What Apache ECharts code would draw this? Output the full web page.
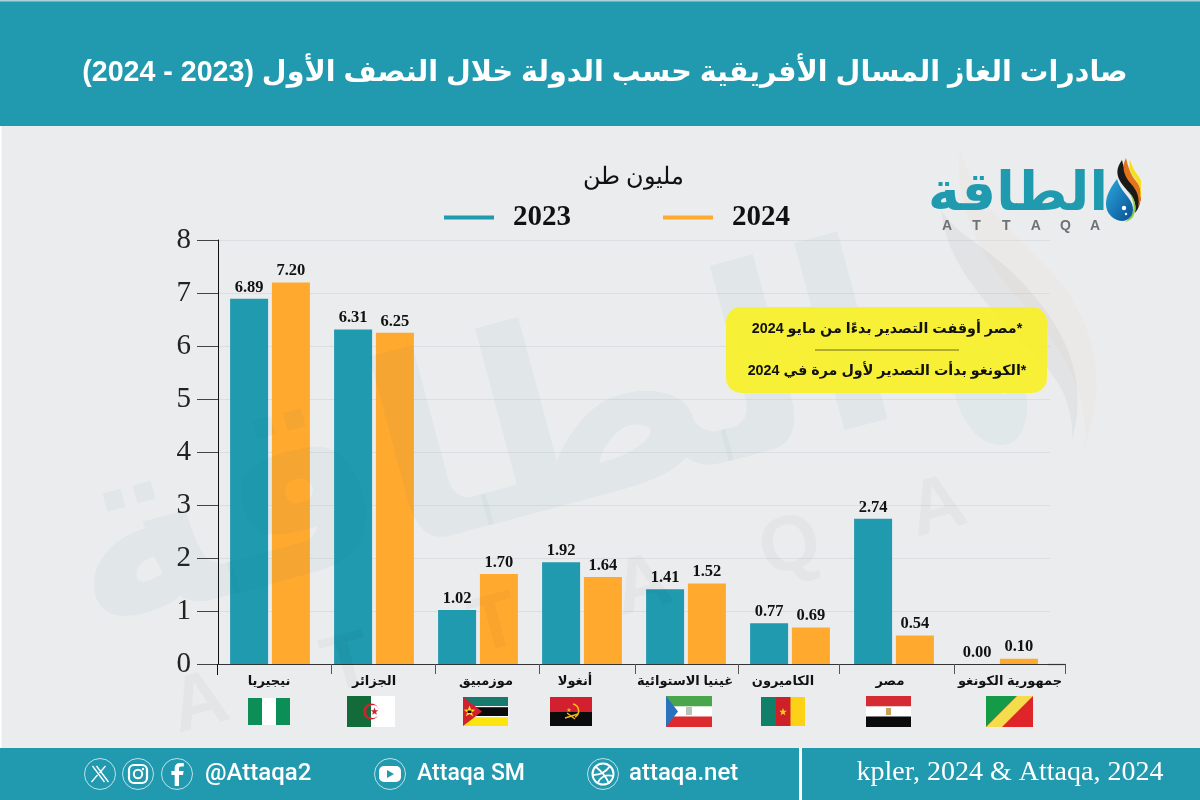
<!DOCTYPE html>
<html>
<head>
<meta charset="utf-8">
<style>
  html, body { margin: 0; padding: 0; background: #ebecee; }
  #main { width: 1200px; height: 800px; }
</style>
<script src="https://cdn.jsdelivr.net/npm/echarts@6/dist/echarts.min.js"></script>
</head>
<body>
<div id="main" dir="rtl"></div>
<script>
var categories = ['نيجيريا', 'الجزائر', 'موزمبيق', 'أنغولا', 'غينيا الاستوائية', 'الكاميرون', 'مصر', 'جمهورية الكونغو'];
var values2023 = [6.89, 6.31, 1.02, 1.92, 1.41, 0.77, 2.74, 0.00];
var values2024 = [7.20, 6.25, 1.70, 1.64, 1.52, 0.69, 0.54, 0.10];
var seriesNames = ['2023', '2024'];

// the reference's group ticks and labels are not evenly spaced
var groupTicks = [331, 435, 539, 635, 738, 839, 954, 1065];
var labelShift = [-1, 0, 8, -7, -1, -7, -4, 12];

var titleText = 'صادرات الغاز المسال الأفريقية حسب الدولة خلال النصف الأول (2023 - 2024)';
var unitText = 'مليون طن';
var noteOne = '*مصر أوقفت التصدير بدءًا من مايو 2024';
var noteTwo = '*الكونغو بدأت التصدير لأول مرة في 2024';
var sourceText = 'kpler, 2024 & Attaqa, 2024';

var TEAL = '#1f9aae';
var ORANGE = '#ffa92f';
var SERIF = '"Liberation Serif", "Times New Roman", serif';
var ARABIC = '"Liberation Sans", "DejaVu Sans", sans-serif';

function svg(w, h, body) {
  return 'data:image/svg+xml;charset=utf-8,' + encodeURIComponent(
    '<svg xmlns="http://www.w3.org/2000/svg" width="' + w * 3 + '" height="' + h * 3 + '" viewBox="0 0 ' + w + ' ' + h + '">' + body + '</svg>');
}
function star(cx, cy, r, fill) {
  var pts = [];
  for (var i = 0; i < 10; i++) {
    var rr = i % 2 ? r * 0.42 : r;
    var a = -Math.PI / 2 + i * Math.PI / 5;
    pts.push((cx + rr * Math.cos(a)).toFixed(2) + ',' + (cy + rr * Math.sin(a)).toFixed(2));
  }
  return '<polygon points="' + pts.join(' ') + '" fill="' + fill + '"/>';
}
function r(x, y, w, h, fill) {
  return '<rect x="' + x + '" y="' + y + '" width="' + w + '" height="' + h + '" fill="' + fill + '"/>';
}

var flags = [
  [248, 698, 42, 27, r(0, 0, 42, 27, '#fff') + r(0, 0, 14, 27, '#0c8f57') + r(28, 0, 14, 27, '#0c8f57')],
  [347, 696, 48, 31, r(0, 0, 48, 31, '#fff') + r(0, 0, 24, 31, '#136b3a') +
    '<circle cx="24" cy="15.5" r="8" fill="#d3202f"/><circle cx="26.2" cy="15.5" r="6.5" fill="#fff"/>' +
    '<path d="M24 9.2a6.5 6.5 0 0 0 0 12.6z" fill="#136b3a"/>' + star(27.5, 15.5, 4, '#d3202f')],
  [463, 697, 45, 29, r(0, 0, 45, 10, '#167a6c') + r(0, 9.5, 45, 10, '#0b0b0b') + r(0, 19.5, 45, 9.5, '#fce40e') +
    r(0, 9, 45, 1.2, '#fff') + r(0, 19, 45, 1.2, '#fff') +
    '<polygon points="0,0 19,14.5 0,29" fill="#d3202f"/>' + star(6.5, 14.5, 6, '#fce40e') + r(4.5, 13.5, 4, 2.5, '#111')],
  [550, 697, 42, 29, r(0, 0, 42, 14.5, '#d3202f') + r(0, 14.5, 42, 14.5, '#0b0b0b') +
    '<path d="M23 7a7 7 0 0 1 2 13" fill="none" stroke="#f4b81c" stroke-width="1.6"/>' +
    '<path d="M15 21l13 -4M17 16l8 6" stroke="#f4b81c" stroke-width="1.4"/>' + star(19, 13, 2.4, '#f4b81c')],
  [666, 696, 46, 31, r(0, 0, 46, 10.5, '#4ba54c') + r(0, 10.5, 46, 10, '#fff') + r(0, 20.5, 46, 10.5, '#dd2a2e') +
    '<polygon points="0,0 12,15.5 0,31" fill="#2a72c0"/>' + r(20, 11, 6, 8, '#b9c4b8')],
  [761, 697, 44, 29, r(0, 0, 15, 29, '#11806a') + r(15, 0, 15, 29, '#ce2028') + r(29.5, 0, 14.5, 29, '#fcd116') + star(22, 15, 4, '#fcd116')],
  [866, 696, 45, 31, r(0, 0, 45, 10.5, '#d52b32') + r(0, 10.5, 45, 10, '#fff') + r(0, 20.5, 45, 10.5, '#0b0b0b') + r(20, 12, 5, 7, '#c8a15a')],
  [986, 696, 47, 31, r(0, 0, 47, 31, '#e0252a') + '<polygon points="0,0 31,0 0,31" fill="#149b48"/>' +
    '<polygon points="31,0 47,0 16,31 0,31" fill="#f5dc4a"/>']
];

var icons = [
  [100, '<path d="M-6 -8L6 8M-2 -8L10 8M-7 8L-1 1M7 -8L1 -1" transform="translate(-1.5 0)" stroke="#fff" stroke-width="1.3" fill="none"/>'],
  [138, '<rect x="-9" y="-9" width="18" height="18" rx="5" fill="none" stroke="#fff" stroke-width="2.2"/><circle r="4.2" fill="none" stroke="#fff" stroke-width="2"/><circle cx="5" cy="-5" r="1.2" fill="#fff"/>'],
  [177, '<path d="M2 12V1h4l.6-4H2v-2.4c0-1.2.4-2 2-2h2.8v-3.6H3.3c-3.6 0-5.6 2-5.6 5.4V-3h-3.3v4h3.3v11z" fill="#fff"/>'],
  [390, '<rect x="-11" y="-8" width="22" height="16" rx="5" fill="#fff"/><polygon points="-3,-4 4,0 -3,4" fill="' + TEAL + '"/>'],
  [603, '<circle r="10.5" fill="none" stroke="#fff" stroke-width="2"/><path d="M-7 -7c5 4 11 11 13 17M7 -8c-4 6-10 9-17 9M-5 9c2-6 8-9 15-7" fill="none" stroke="#fff" stroke-width="1.8"/>']
];

var dropArt = svg(36, 66,
  '<defs><linearGradient id="d" x1="0" y1="0" x2="1" y2="1"><stop offset="0" stop-color="#2aa9de"/><stop offset="1" stop-color="#0a4f92"/></linearGradient></defs>' +
  '<path d="M17 3C9 14 12 22 21 32C28 40 32 46 30 56C38 46 36 36 29 28C22 20 19 12 17 3z" fill="#1a1a1a"/>' +
  '<path d="M21 1C16 11 19 19 27 28C32 34 35 41 33 50C39 40 37 31 31 24C26 18 23 10 21 1z" fill="#e2741b"/>' +
  '<path d="M25 3C23 11 26 17 31 23C35 28 36 34 35 41C39 33 38 26 34 20C30 15 27 9 25 3z" fill="#f6e01d"/>' +
  '<path d="M22 33C30 40 33 50 28 60C25 64 20 65 20 65C27 60 30 52 28 45C27 40 25 36 22 33z" fill="#8ecb47"/>' +
  '<path d="M12 22C6 30 1 38 1 47C1 57 9 64 18 64C26 63 30 55 27 47C24 39 15 33 12 22z" fill="url(#d)"/>' +
  '<circle cx="19" cy="51" r="2.2" fill="#fff"/><circle cx="21" cy="57" r="1.2" fill="#fff"/>');

var swooshArt = svg(240, 300,
  '<path d="M40 0C30 60 70 110 130 160C180 200 215 250 205 300C240 230 220 170 160 120C100 75 60 50 40 0z" fill="#f0a030" opacity=".03"/>' +
  '<path d="M15 60C20 110 70 150 120 190C160 220 190 240 190 290C215 220 170 170 120 130C75 95 35 85 15 60z" fill="#000" opacity=".035"/>' +
  '<path d="M30 195C20 235 45 295 95 295C130 295 135 255 125 235C105 205 60 190 30 195z" fill="' + TEAL + '" opacity=".05"/>' +
  '<circle cx="92" cy="222" r="8" fill="#fff" opacity=".35"/><circle cx="98" cy="240" r="4" fill="#fff" opacity=".35"/>');

var chart = echarts.init(document.getElementById('main'), null, { renderer: 'canvas' });

var graphics = [
  { type: 'rect', z: -10, silent: true, shape: { x: 0, y: 0, width: 1200, height: 800 }, style: { fill: '#ebecee' } },
  { type: 'rect', z: -9, silent: true, shape: { x: 0, y: 0, width: 1200, height: 126 }, style: { fill: '#219aaf' } },
  { type: 'rect', z: -9, silent: true, shape: { x: 0, y: 0, width: 1200, height: 1.5 }, style: { fill: '#a9d3da' } },
  { type: 'rect', z: -9, silent: true, shape: { x: 0, y: 126, width: 1.5, height: 622 }, style: { fill: '#fff' } },
  { type: 'rect', z: -9, silent: true, shape: { x: 0, y: 748, width: 1200, height: 52 }, style: { fill: '#219aaf' } },
  { type: 'rect', z: -8, silent: true, shape: { x: 799, y: 748, width: 3, height: 52 }, style: { fill: '#fff' } },

  // watermark
  { type: 'text', z: 5, silent: true, x: 480, y: 455, rotation: 15 * Math.PI / 180,
    style: { text: 'الطاقة', font: 'bold 255px ' + ARABIC, fill: 'rgba(31,120,150,0.045)', align: 'center', verticalAlign: 'middle' } },
  { type: 'image', z: 1, silent: true, style: { image: swooshArt, x: 930, y: 150, width: 180, height: 300 } },

  // note box
  { type: 'rect', z: 6, silent: true, shape: { x: 726, y: 307, width: 321, height: 86, r: 15 }, style: { fill: 'rgba(248,240,40,0.93)' } },
  { type: 'line', z: 7, silent: true, shape: { x1: 815, y1: 350, x2: 959, y2: 350 }, style: { stroke: '#6e6a20', lineWidth: 1 } },
  { type: 'text', z: 7, silent: true, x: 887, y: 329, style: { text: noteOne, font: 'bold 14.3px ' + ARABIC, fill: '#111', align: 'center', verticalAlign: 'middle' } },
  { type: 'text', z: 7, silent: true, x: 887, y: 371, style: { text: noteTwo, font: 'bold 14.3px ' + ARABIC, fill: '#111', align: 'center', verticalAlign: 'middle' } },

  // logo
  { type: 'text', z: 7, silent: true, x: 1018, y: 195, style: { text: 'الطاقة', font: 'bold 54px ' + ARABIC, fill: '#1f9aae', align: 'center', verticalAlign: 'middle' } },
  { type: 'image', z: 7, silent: true, style: { image: dropArt, x: 1105, y: 157, width: 36, height: 66 } },

  // axis extensions: line past the last category, y axis below zero
  { type: 'line', z: 4, silent: true, shape: { x1: 1048, y1: 664.5, x2: 1065.5, y2: 664.5 }, style: { stroke: '#333', lineWidth: 1.2 } },
  { type: 'line', z: 4, silent: true, shape: { x1: 217.5, y1: 664, x2: 217.5, y2: 675 }, style: { stroke: '#111', lineWidth: 1 } },

  // footer
  { type: 'text', z: 7, silent: true, x: 205, y: 774, style: { text: '\u200e@Attaqa2', font: '500 24px Roboto, sans-serif', fill: '#fff', align: 'left', verticalAlign: 'middle' } },
  { type: 'text', z: 7, silent: true, x: 417, y: 774, style: { text: 'Attaqa SM', font: '500 23px Roboto, sans-serif', fill: '#fff', align: 'left', verticalAlign: 'middle' } },
  { type: 'text', z: 7, silent: true, x: 629, y: 774, style: { text: 'attaqa.net', font: '500 24px Roboto, sans-serif', fill: '#fff', align: 'left', verticalAlign: 'middle' } },
  { type: 'text', z: 7, silent: true, x: 1010, y: 773, style: { text: sourceText, font: '28px ' + SERIF, fill: '#fff', align: 'center', verticalAlign: 'middle' } }
];

// faint and small ATTAQA letters
'ATTAQA'.split('').forEach(function (ch, i) {
  graphics.push({ type: 'text', z: 5, silent: true, x: 200 + i * 147.6, y: 705 - i * 39.2, rotation: 15 * Math.PI / 180,
    style: { text: ch, font: 'bold 78px "Liberation Sans", sans-serif', fill: 'rgba(0,0,0,0.028)', align: 'center', verticalAlign: 'middle' } });
  graphics.push({ type: 'text', z: 7, silent: true, x: 947 + i * 29.6, y: 226,
    style: { text: ch, font: 'bold 14px "Liberation Sans", sans-serif', fill: '#6d7274', align: 'center', verticalAlign: 'middle' } });
});

groupTicks.forEach(function (x) {
  graphics.push({ type: 'line', z: 4, silent: true, shape: { x1: x + 0.5, y1: 664, x2: x + 0.5, y2: 674 }, style: { stroke: '#555', lineWidth: 1 } });
});

flags.forEach(function (f) {
  graphics.push({ type: 'image', z: 6, silent: true, style: { image: svg(f[2], f[3], f[4]), x: f[0], y: f[1], width: f[2], height: f[3] } });
});

icons.forEach(function (ic) {
  graphics.push({ type: 'circle', z: 7, silent: true, shape: { cx: ic[0], cy: 774, r: 15.5 }, style: { fill: 'none', stroke: '#fff', lineWidth: 0.7 } });
  graphics.push({ type: 'image', z: 7, silent: true, style: {
    image: svg(30, 30, '<g transform="translate(15 15)">' + ic[1] + '</g>'), x: ic[0] - 15, y: 759, width: 30, height: 30 } });
});

var barLabel = {
  show: true,
  position: 'top',
  distance: 3,
  formatter: function (p) { return p.value.toFixed(2); },
  fontFamily: SERIF,
  fontWeight: 'bold',
  fontSize: 16.5,
  color: '#111'
};

var option = {
  animation: false,
  backgroundColor: '#ebecee',
  title: [
    { text: titleText, left: 600, textAlign: 'center', top: 54,
      textStyle: { fontFamily: ARABIC, fontWeight: 'bold', fontSize: 28.6, color: '#fff' } },
    { text: unitText, left: 628, textAlign: 'center', top: 161,
      textStyle: { fontFamily: SERIF, fontWeight: 'normal', fontSize: 24, color: '#111' } }
  ],
  legend: {
    left: 439,
    top: 198,
    data: seriesNames,
    icon: 'rect',
    itemWidth: 50,
    itemHeight: 4,
    itemGap: 92,
    textStyle: { fontFamily: SERIF, fontWeight: 'bold', fontSize: 29, color: '#111', padding: [0, 0, 0, 14] }
  },
  grid: { left: 218, top: 240, width: 832, height: 424 },
  xAxis: {
    type: 'category',
    data: categories.map(function (c, i) {
      var s = labelShift[i];
      return { value: c, textStyle: { padding: s > 0 ? [0, 0, 0, s * 2] : [0, -s * 2, 0, 0] } };
    }),
    axisLine: { lineStyle: { color: '#333', width: 1.2 } },
    axisTick: { show: false },
    axisLabel: { interval: 0, margin: 11, fontFamily: ARABIC, fontWeight: 'bold', fontSize: 13, color: '#111' }
  },
  yAxis: {
    type: 'value',
    min: 0,
    max: 8,
    interval: 1,
    axisLine: { show: true, lineStyle: { color: '#111', width: 1 } },
    axisTick: { show: true, length: 21, lineStyle: { color: '#444', width: 1 } },
    axisLabel: { margin: 27, fontFamily: SERIF, fontSize: 29, color: '#222' },
    splitLine: { lineStyle: { color: '#dcdfe1', width: 1 } }
  },
  series: [
    { name: seriesNames[0], type: 'bar', data: values2023, barWidth: 38, barGap: '10%', itemStyle: { color: TEAL }, label: barLabel },
    { name: seriesNames[1], type: 'bar', data: values2024, barWidth: 38, barGap: '10%', itemStyle: { color: ORANGE }, label: barLabel }
  ],
  graphic: { elements: graphics }
};

chart.setOption(option);
</script>
</body>
</html>
